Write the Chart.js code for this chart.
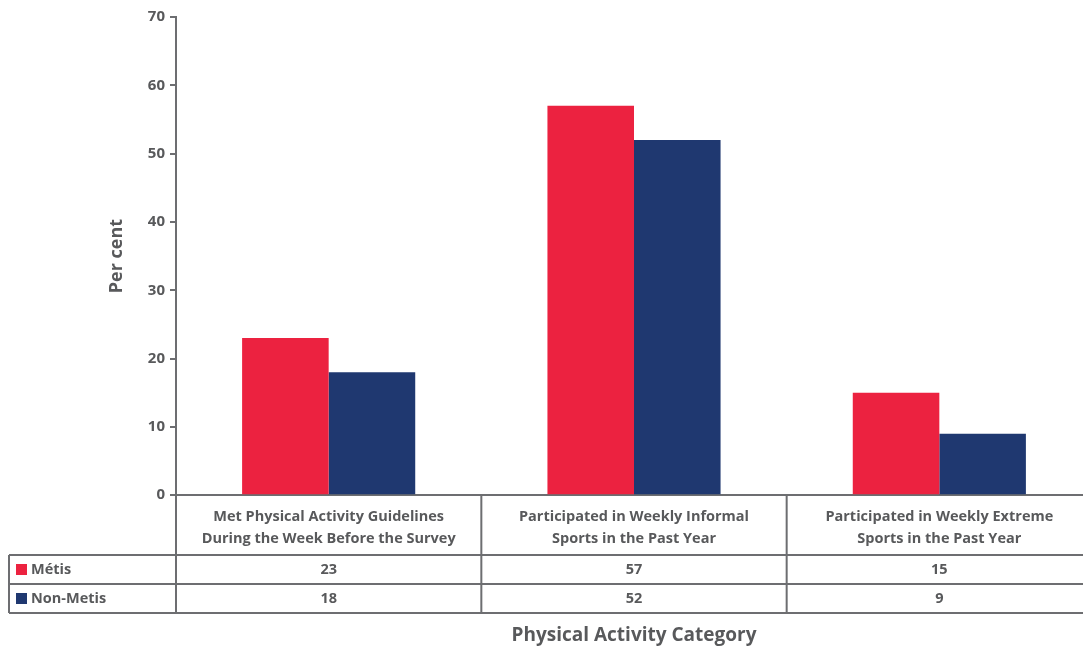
<!DOCTYPE html>
<html>
<head>
<meta charset="utf-8">
<title>Physical Activity Category</title>
<script src="https://cdn.jsdelivr.net/npm/chart.js@4"></script>
<style>
    html, body { margin: 0; padding: 0; background: #fff; overflow: hidden; }
    #wrap { width: 1083px; height: 647px; overflow: hidden; }
</style>
</head>
<body>
<div id="wrap"><canvas id="chart" width="1092" height="647"></canvas></div>
<script>
///////////////////////////////////////////////////////////////////////////////
// chart data
const categories = [
    ["Met Physical Activity Guidelines", "During the Week Before the Survey"],
    ["Participated in Weekly Informal", "Sports in the Past Year"],
    ["Participated in Weekly Extreme", "Sports in the Past Year"]
];
const seriesNames = ["Métis", "Non-Metis"];
const metisValues = [23, 57, 15];
const nonMetisValues = [18, 52, 9];
const yMin = 0, yMax = 70, yStep = 10;

// global vars
go = {};
const TEXT = "#58595b";
const LINE = "#6d6e71";
const FONT = "'Open Sans', sans-serif";


///////////////////////////////////////////////////////////////////////////////
// draws the data table under the x-axis
const tablePlugin = {
    id: "dataTable",
    afterDraw(chart)
    {
        const ctx = chart.ctx;
        const area = chart.chartArea;
        const xs = chart.scales.x;
        const catW = (area.right - area.left) / categories.length;
        const top = area.bottom;
        const hdrBottom = 555, row1 = 584, row2 = 613;
        const left = 9;

        ctx.save();
        ctx.strokeStyle = LINE;
        ctx.lineWidth = 2;
        ctx.beginPath();
        // horizontal rules
        [hdrBottom, row1, row2].forEach(y => {
            ctx.moveTo(left, y); ctx.lineTo(chart.width, y);
        });
        // left edge of label column
        ctx.moveTo(left, hdrBottom); ctx.lineTo(left, row2);
        // category dividers
        for(let i = 0; i <= categories.length; i++)
        {
            const x = area.left + i * catW;
            ctx.moveTo(x, top); ctx.lineTo(x, row2);
        }
        ctx.stroke();

        ctx.fillStyle = TEXT;
        ctx.textAlign = "center";
        ctx.textBaseline = "middle";
        ctx.font = "bold 14.5px " + FONT;
        categories.forEach((lines, i) => {
            const cx = xs.getPixelForValue(i);
            ctx.fillText(lines[0], cx, 517);
            ctx.fillText(lines[1], cx, 539);
        });

        // one row per series: swatch, name, then the values
        const rows = [hdrBottom + 14.5, row1 + 14.5];
        chart.data.datasets.forEach((ds, r) => {
            const cy = rows[r];
            ctx.fillStyle = ds.backgroundColor;
            ctx.fillRect(16, cy - 5.5, 11, 11);
            ctx.fillStyle = TEXT;
            ctx.textAlign = "left";
            ctx.fillText(ds.label, 31, cy);
            ctx.textAlign = "center";
            ds.data.forEach((v, i) => ctx.fillText(String(v), xs.getPixelForValue(i), cy));
        });
        ctx.restore();
    }
};


///////////////////////////////////////////////////////////////////////////////
// main entry point
document.addEventListener("DOMContentLoaded", e =>
{
    drawChart();
});


///////////////////////////////////////////////////////////////////////////////
function drawChart()
{
    if(go.chart)
        go.chart.destroy();

    let context = document.getElementById("chart").getContext("2d");

    go.chart = new Chart(context,
    {
        type: "bar",
        data:
        {
            labels: categories,
            datasets:
            [{
                label: seriesNames[0],
                data: metisValues,
                backgroundColor: "#ec2240",
                barPercentage: 1,
                categoryPercentage: 0.567
            },
            {
                label: seriesNames[1],
                data: nonMetisValues,
                backgroundColor: "#1f3870",
                barPercentage: 1,
                categoryPercentage: 0.567
            }]
        },
        options:
        {
            responsive: false,
            animation: false,
            layout: { padding: { top: 17, right: 0, left: 0, bottom: 0 } },
            plugins:
            {
                legend: { display: false },
                tooltip: { enabled: false }
            },
            scales:
            {
                x:
                {
                    grid: { display: false },
                    border: { color: LINE, width: 2 },
                    ticks: { display: false },
                    title:
                    {
                        display: true,
                        text: "Physical Activity Category",
                        color: TEXT,
                        font: { family: FONT, size: 19, weight: "bold" },
                        padding: { top: 121, bottom: 0 }
                    }
                },
                y:
                {
                    min: yMin,
                    max: yMax,
                    ticks:
                    {
                        stepSize: yStep,
                        color: TEXT,
                        padding: 5,
                        font: { family: FONT, size: 15, weight: "bold" }
                    },
                    grid: { drawOnChartArea: false, color: LINE, lineWidth: 2, tickLength: 6 },
                    border: { color: LINE, width: 2 },
                    title:
                    {
                        display: true,
                        text: "Per cent",
                        color: TEXT,
                        font: { family: FONT, size: 18, weight: "bold" },
                        padding: { top: 106, bottom: 0 }
                    },
                    afterFit: scale => { scale.width = 176; }
                }
            }
        },
        plugins: [tablePlugin]
    });
}
</script>
</body>
</html>
